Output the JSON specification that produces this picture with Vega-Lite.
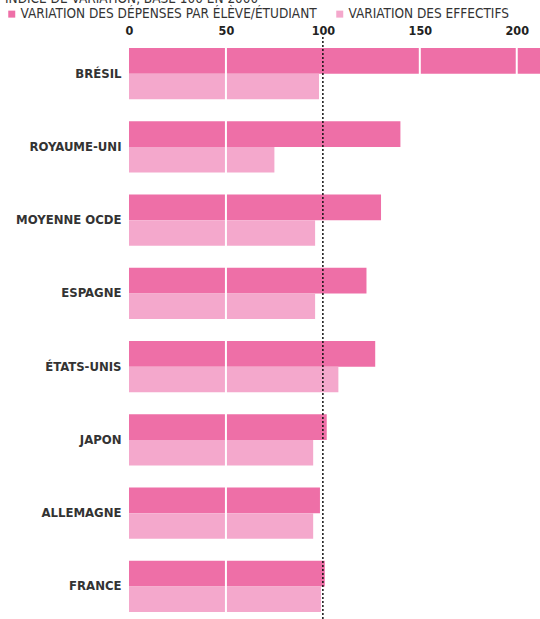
{
  "$schema": "https://vega.github.io/schema/vega-lite/v6.json",
  "autosize": {"type": "none"},
  "padding": {"left": 129, "top": 37, "right": 0, "bottom": 0},
  "width": 411,
  "height": 586,
  "background": "white",
  "title": {
    "text": "INDICE DE VARIATION, BASE 100 EN 2000",
    "anchor": "start",
    "dx": 0,
    "offset": 0,
    "dy": 12,
    "baseline": "bottom",
    "font": "DejaVu Sans Condensed",
    "fontSize": 13.5,
    "fontWeight": "normal",
    "color": "#333333"
  },
  "data": {
    "values": [
      {"pays": "BRÉSIL", "serie": "VARIATION DES DÉPENSES PAR ÉLÈVE/ÉTUDIANT", "valeur": 220},
      {"pays": "BRÉSIL", "serie": "VARIATION DES EFFECTIFS", "valeur": 98},
      {"pays": "ROYAUME-UNI", "serie": "VARIATION DES DÉPENSES PAR ÉLÈVE/ÉTUDIANT", "valeur": 140},
      {"pays": "ROYAUME-UNI", "serie": "VARIATION DES EFFECTIFS", "valeur": 75},
      {"pays": "MOYENNE OCDE", "serie": "VARIATION DES DÉPENSES PAR ÉLÈVE/ÉTUDIANT", "valeur": 130},
      {"pays": "MOYENNE OCDE", "serie": "VARIATION DES EFFECTIFS", "valeur": 96},
      {"pays": "ESPAGNE", "serie": "VARIATION DES DÉPENSES PAR ÉLÈVE/ÉTUDIANT", "valeur": 122.5},
      {"pays": "ESPAGNE", "serie": "VARIATION DES EFFECTIFS", "valeur": 96},
      {"pays": "ÉTATS-UNIS", "serie": "VARIATION DES DÉPENSES PAR ÉLÈVE/ÉTUDIANT", "valeur": 127},
      {"pays": "ÉTATS-UNIS", "serie": "VARIATION DES EFFECTIFS", "valeur": 108},
      {"pays": "JAPON", "serie": "VARIATION DES DÉPENSES PAR ÉLÈVE/ÉTUDIANT", "valeur": 102},
      {"pays": "JAPON", "serie": "VARIATION DES EFFECTIFS", "valeur": 95},
      {"pays": "ALLEMAGNE", "serie": "VARIATION DES DÉPENSES PAR ÉLÈVE/ÉTUDIANT", "valeur": 98.5},
      {"pays": "ALLEMAGNE", "serie": "VARIATION DES EFFECTIFS", "valeur": 95},
      {"pays": "FRANCE", "serie": "VARIATION DES DÉPENSES PAR ÉLÈVE/ÉTUDIANT", "valeur": 101},
      {"pays": "FRANCE", "serie": "VARIATION DES EFFECTIFS", "valeur": 99}
    ]
  },
  "config": {
    "view": {"stroke": null},
    "font": "DejaVu Sans Condensed"
  },
  "layer": [
    {
      "mark": {"type": "bar", "clip": true},
      "encoding": {
        "y": {
          "field": "pays",
          "type": "nominal",
          "sort": null,
          "scale": {"paddingInner": 0.3, "paddingOuter": 0.15},
          "axis": {
            "title": null,
            "domain": false,
            "ticks": false,
            "labelPadding": 8,
            "labelFont": "DejaVu Sans Condensed",
            "labelFontWeight": "bold",
            "labelFontSize": 13,
            "labelColor": "#333333"
          }
        },
        "yOffset": {"field": "serie", "type": "nominal", "sort": null},
        "x": {
          "field": "valeur",
          "type": "quantitative",
          "scale": {"domain": [0, 212], "nice": false, "zero": true},
          "axis": {
            "orient": "top",
            "title": null,
            "values": [0, 50, 100, 150, 200],
            "domain": false,
            "ticks": false,
            "grid": false,
            "labelPadding": 0,
            "labelFont": "DejaVu Sans Condensed",
            "labelFontWeight": "bold",
            "labelFontSize": 12.5,
            "labelColor": "#222222",
            "labelFlush": false
          }
        },
        "color": {
          "field": "serie",
          "type": "nominal",
          "sort": null,
          "scale": {"range": ["#ee6fa7", "#f4a8cc"]},
          "legend": {
            "title": null,
            "orient": "none",
            "legendX": -124,
            "legendY": -30,
            "direction": "horizontal",
            "symbolType": "square",
            "symbolSize": 49,
            "symbolStrokeWidth": 0,
            "symbolOpacity": 1,
            "labelFont": "DejaVu Sans Condensed",
            "labelFontSize": 13.5,
            "labelColor": "#333333",
            "columnPadding": 16,
            "labelOffset": 2,
            "labelLimit": 400
          }
        }
      }
    },
    {
      "data": {"values": [{"v": 50}, {"v": 150}, {"v": 200}]},
      "mark": {"type": "rule", "color": "white", "strokeWidth": 2},
      "encoding": {
        "x": {"field": "v", "type": "quantitative"}
      }
    },
    {
      "data": {"values": [{"v": 100}]},
      "mark": {"type": "rule", "color": "#111111", "strokeWidth": 1.5, "strokeDash": [2, 2]},
      "encoding": {
        "x": {"field": "v", "type": "quantitative"}
      }
    }
  ]
}
